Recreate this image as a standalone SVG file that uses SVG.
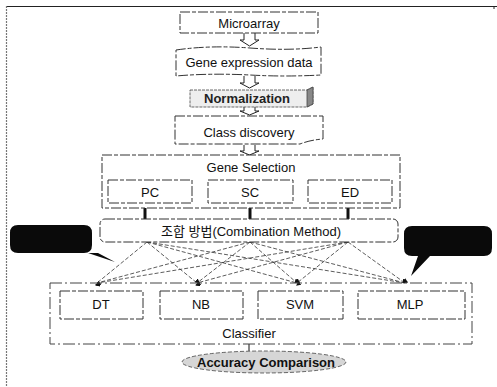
<svg xmlns="http://www.w3.org/2000/svg" width="497" height="387" viewBox="0 0 497 387">
<style>
text{font-family:"Liberation Sans","Noto Sans CJK KR",Arial,sans-serif;font-size:13px;fill:#111;text-anchor:middle;dominant-baseline:central}
.box{fill:#fff;stroke:#333;stroke-width:1;stroke-dasharray:10 2 4 2}
.arr{fill:#fff;stroke:#222;stroke-width:1}
.dash{stroke:#333;stroke-width:0.8;stroke-dasharray:4 2;fill:none}
.thick{stroke:#111;stroke-width:3}
.bub{fill:#0a0a0a}
</style>
<defs>
<marker id="dot" viewBox="0 0 6 6" refX="3" refY="5" markerWidth="6" markerHeight="6" orient="auto">
<path d="M0,0 L6,3 L0,6 Z" fill="#111"/>
</marker>
</defs>
<g id="frame">
<line x1="6" y1="6.5" x2="497" y2="6.5" stroke="#222" stroke-width="1.2"/>
<line x1="6.5" y1="6" x2="6.5" y2="387" stroke="#777" stroke-width="1.2" stroke-dasharray="2 1"/>
<line x1="494" y1="6" x2="494" y2="9" stroke="#222"/>
</g>
<g id="connectors">
<path class="arr" d="M244,33 V40 H240 L249.5,46 L259,40 H255 V33"/>
<path class="arr" d="M244,76 V83 H240 L249.5,88 L259,83 H255 V76"/>
<path class="arr" d="M244,106 V111 H240 L249.5,115 L259,111 H255 V106"/>
<path class="arr" d="M244,145 V151 H240 L249.5,155 L259,151 H255 V145"/>
<line class="thick" x1="145" y1="208" x2="145" y2="219"/>
<line class="thick" x1="250" y1="208" x2="250" y2="219"/>
<line class="thick" x1="348" y1="208" x2="348" y2="219"/>
<g class="dash">
<line x1="147" y1="242" x2="97" y2="283" marker-end="url(#dot)"/>
<line x1="147" y1="242" x2="197" y2="283" marker-end="url(#dot)"/>
<line x1="147" y1="242" x2="297" y2="283" marker-end="url(#dot)"/>
<line x1="147" y1="242" x2="405" y2="283" marker-end="url(#dot)"/>
<line x1="250" y1="242" x2="97" y2="283" marker-end="url(#dot)"/>
<line x1="250" y1="242" x2="197" y2="283" marker-end="url(#dot)"/>
<line x1="250" y1="242" x2="297" y2="283" marker-end="url(#dot)"/>
<line x1="250" y1="242" x2="405" y2="283" marker-end="url(#dot)"/>
<line x1="348" y1="242" x2="97" y2="283" marker-end="url(#dot)"/>
<line x1="348" y1="242" x2="197" y2="283" marker-end="url(#dot)"/>
<line x1="348" y1="242" x2="297" y2="283" marker-end="url(#dot)"/>
<line x1="348" y1="242" x2="405" y2="283" marker-end="url(#dot)"/>
</g>
<line x1="249" y1="344" x2="249" y2="351" stroke="#111" stroke-width="1"/>
</g>
<g id="microarray">
<rect class="box" x="180" y="12" width="138" height="21"/>
<text x="249" y="23">Microarray</text>
</g>
<g id="gene-expression">
<path class="box" d="M176,50 Q210,45 250,48 Q290,51 321,47 V75 Q285,77 250,75 Q210,73 176,76 Z"/>
<text x="249" y="62">Gene expression data</text>
</g>
<g id="normalization">
<path d="M190,90 H307 L313,87 V104 L307,107 H190 Z" fill="#eee" stroke="#444" stroke-width="0.8" stroke-dasharray="3 1"/>
<path d="M307,90 L313,87 V104 L307,107 Z" fill="#888" stroke="#444" stroke-width="0.8"/>
<text x="247" y="98" style="font-weight:bold;fill:#222">Normalization</text>
</g>
<g id="class-discovery">
<path class="box" d="M175,116 H323 V139 Q310,140 300,144 H175 Z"/>
<text x="249" y="132">Class discovery</text>
</g>
<g id="gene-selection">
<rect class="box" x="102" y="155" width="298" height="53"/>
<text x="251" y="167">Gene Selection</text>
</g>
<g id="pc">
<rect class="box" x="108" y="180" width="84" height="23"/>
<text x="150" y="192">PC</text>
</g>
<g id="sc">
<rect class="box" x="208" y="180" width="85" height="23"/>
<text x="250" y="192">SC</text>
</g>
<g id="ed">
<rect class="box" x="308" y="180" width="84" height="23"/>
<text x="350" y="192">ED</text>
</g>
<g id="combination">
<rect class="box" x="100" y="219" width="298" height="23" rx="5"/>
<text x="251" y="231">조합 방법(Combination Method)</text>
</g>
<g id="callout-left">
<path class="bub" d="M18,225 H84 Q92,225 92,233 V245 Q92,253 84,253 H98 L115,262 L88,253 H18 Q10,253 10,245 V233 Q10,225 18,225 Z"/>
</g>
<g id="callout-right">
<path class="bub" d="M412,226 H484 Q492,226 492,234 V248 Q492,256 484,256 H430 L411,276 L418,256 H412 Q404,256 404,248 V234 Q404,226 412,226 Z"/>
</g>
<g id="classifier">
<rect x="50" y="283" width="422" height="61" fill="none" stroke="#444" stroke-width="1" stroke-dasharray="12 3 2 3"/>
<text x="249" y="333">Classifier</text>
</g>
<g id="dt">
<rect class="box" x="60" y="291" width="83" height="28"/>
<text x="101" y="304">DT</text>
</g>
<g id="nb">
<rect class="box" x="160" y="291" width="83" height="28"/>
<text x="201" y="304">NB</text>
</g>
<g id="svm">
<rect class="box" x="258" y="291" width="85" height="28"/>
<text x="300" y="304">SVM</text>
</g>
<g id="mlp">
<rect class="box" x="358" y="291" width="107" height="28"/>
<text x="410" y="304">MLP</text>
</g>
<g id="accuracy">
<ellipse cx="264" cy="362" rx="82" ry="11" fill="#d6d6d6" stroke="#444" stroke-width="0.8" stroke-dasharray="4 2"/>
<text x="266" y="362" style="font-weight:bold;fill:#111">Accuracy Comparison</text>
</g>
</svg>
